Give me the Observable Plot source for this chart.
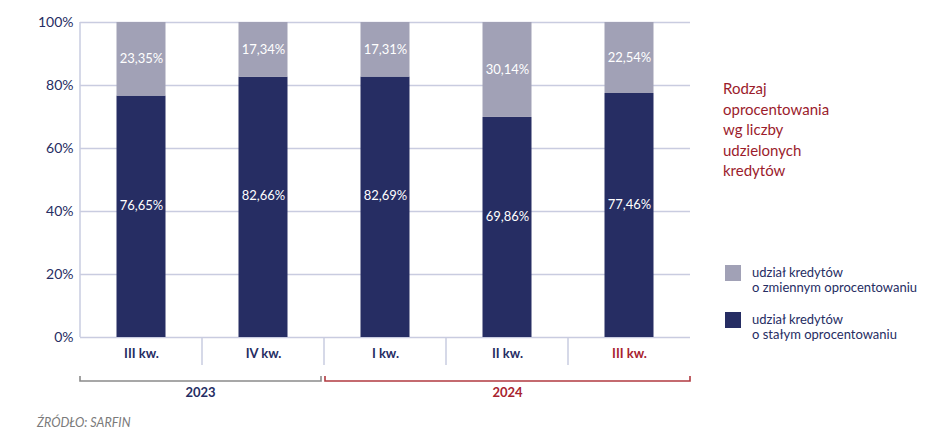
<!DOCTYPE html>
<html><head><meta charset="utf-8">
<script src="https://cdn.jsdelivr.net/npm/d3@7"></script>
<script src="https://cdn.jsdelivr.net/npm/@observablehq/plot@0.6"></script>
<style>
body{margin:0;background:#fff;}
#wrap{position:relative;width:948px;height:445px;font-family:Lato,"Open Sans",sans-serif;overflow:hidden;}
#wrap svg{position:absolute;left:0;top:0;}
.title{position:absolute;left:723px;top:78px;font-size:15px;line-height:20.5px;color:#9b1c2c;}
.leg{position:absolute;left:725px;width:220px;}
.leg .sw{position:absolute;left:0;top:0;width:16px;height:16px;}
.leg .tx{position:absolute;left:27px;top:0;font-size:13px;line-height:15px;color:#262d63;white-space:nowrap;}
.src{position:absolute;left:37px;top:415px;font-size:12.5px;font-style:italic;color:#7a7a7a;}
</style></head><body><div id="wrap"></div>
<script>
const years = ["2023","2023","2024","2024","2024"];
const quarters = ["III kw.","IV kw.","I kw.","II kw.","III kw."];
const fixedShare = [76.65, 82.66, 82.69, 69.86, 77.46];
const variableShare = [23.35, 17.34, 17.31, 30.14, 22.54];
const yTicks = [0, 20, 40, 60, 80, 100];
const seriesNames = ["udział kredytów o stałym oprocentowaniu", "udział kredytów o zmiennym oprocentowaniu"];
const seriesColors = ["#262d63", "#a1a1b6"];
const legendTitle = ["Rodzaj", "oprocentowania", "wg liczby", "udzielonych", "kredytów"];
const sourceText = "ŹRÓDŁO: SARFIN";

const navy = "#262d63", red = "#a8232f", grid = "#c9cce0";
const keys = quarters.map((q, i) => years[i] + " " + q);
const rows = [];
keys.forEach((k, i) => {
  rows.push({key: k, series: seriesNames[0], y1: 0, y2: fixedShare[i]});
  rows.push({key: k, series: seriesNames[1], y1: fixedShare[i], y2: fixedShare[i] + variableShare[i]});
});
const fmt = v => v.toFixed(2).replace(".", ",") + "%";
const fixedLbl = keys.map((k, i) => ({key: k, y: fixedShare[i] / 2, t: fmt(fixedShare[i])}));
const varLbl = keys.map((k, i) => ({key: k, y: fixedShare[i] + variableShare[i] / 2, t: fmt(variableShare[i])}));

const plot = Plot.plot({
  width: 948, height: 445,
  marginLeft: 80, marginRight: 258, marginTop: 22, marginBottom: 108,
  x: {domain: keys, padding: 0, axis: null},
  y: {domain: [0, 100], axis: null},
  color: {domain: seriesNames, range: seriesColors},
  style: {fontFamily: "Lato, 'Open Sans', sans-serif", background: "transparent"},
  marks: [
    Plot.ruleY(yTicks, {y: d => d, stroke: grid, strokeWidth: 1.5}),
    Plot.barY(rows, {x: "key", y1: "y1", y2: "y2", fill: "series", insetLeft: 36.5, insetRight: 36.5}),
    Plot.text(fixedLbl, {x: "key", y: "y", text: "t", fill: "white", fontSize: 13, dy: -11}),
    Plot.text(varLbl, {x: "key", y: "y", text: "t", fill: "white", fontSize: 13}),
    Plot.text(yTicks, {y: d => d, text: d => d + "%", frameAnchor: "left", textAnchor: "end", dx: -7, fill: navy, fontSize: 14}),
    Plot.text(keys.slice(0, 4), {x: d => d, text: (d, i) => quarters[i], frameAnchor: "bottom", dy: 20, fill: navy, fontSize: 13, fontWeight: "bold"}),
    Plot.text(keys.slice(4), {x: d => d, text: (d, i) => quarters[4 + i], frameAnchor: "bottom", dy: 20, fill: red, fontSize: 13, fontWeight: "bold"})
  ]
});

// extra axis decorations from the plot's own scales
const xs = plot.scale("x"), ys = plot.scale("y");
const bw = xs.bandwidth;
const y0 = ys.apply(0), y100 = ys.apply(100);
const svg = d3.select(plot);
const g = svg.append("g");
g.append("line").attr("x1", xs.apply(keys[0])).attr("x2", xs.apply(keys[0]))
  .attr("y1", y100).attr("y2", y0).attr("stroke", grid).attr("stroke-width", 1.5);
for (let i = 1; i < keys.length; i++) {
  const x = xs.apply(keys[i]);
  g.append("line").attr("x1", x).attr("x2", x).attr("y1", y0).attr("y2", y0 + 28)
    .attr("stroke", grid).attr("stroke-width", 1.5);
}
const groups = Array.from(d3.group(keys.map((k, i) => ({k, i, y: years[i]})), d => d.y));
groups.forEach(([yr, arr], gi) => {
  const first = arr[0], last = arr[arr.length - 1];
  const xa = xs.apply(first.k) + (gi === 0 ? 0 : 1);
  const xb = xs.apply(last.k) + bw - (gi === groups.length - 1 ? 0 : 3);
  const col = gi === groups.length - 1 ? "#b13a40" : "#8a8a8a";
  const yb = y0 + 44;
  g.append("path").attr("d", `M${xa},${yb - 5}V${yb}H${xb}V${yb - 5}`)
    .attr("fill", "none").attr("stroke", col).attr("stroke-width", 1.6);
  g.append("text").attr("x", (xa + xb) / 2).attr("y", yb + 11).attr("dy", "0.35em")
    .attr("text-anchor", "middle").attr("font-size", 13).attr("font-weight", "bold")
    .attr("fill", gi === groups.length - 1 ? red : navy).text(yr);
});

const wrap = document.getElementById("wrap");
wrap.appendChild(plot);
const t = document.createElement("div");
t.className = "title";
t.innerHTML = legendTitle.join("<br>");
wrap.appendChild(t);
const legendOrder = [1, 0];
const legendTop = [265, 312];
const legendLines = [["udział kredytów", "o stałym oprocentowaniu"], ["udział kredytów", "o zmiennym oprocentowaniu"]];
legendOrder.forEach((si, j) => {
  const d = document.createElement("div");
  d.className = "leg";
  d.style.top = legendTop[j] + "px";
  d.innerHTML = `<div class="sw" style="background:${seriesColors[si]}"></div><div class="tx">${legendLines[si].join("<br>")}</div>`;
  wrap.appendChild(d);
});
const s = document.createElement("div");
s.className = "src";
s.textContent = sourceText;
wrap.appendChild(s);
</script>
</body></html>
